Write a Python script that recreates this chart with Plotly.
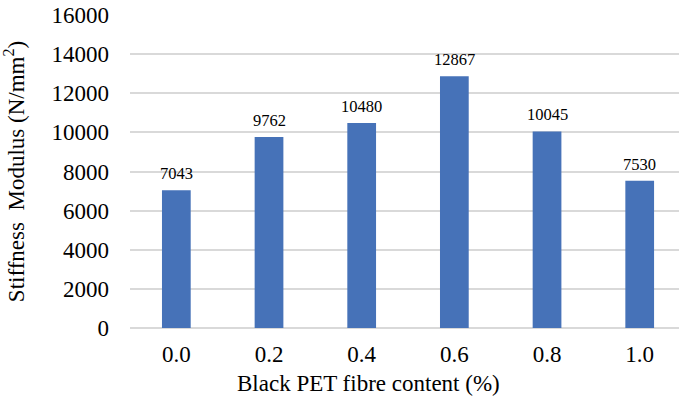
import plotly.graph_objects as go

# Stiffness modulus for each black PET fibre dosage
fibre_content = ["0.0", "0.2", "0.4", "0.6", "0.8", "1.0"]
stiffness = [7043, 9762, 10480, 12867, 10045, 7530]
y_ticks = [0, 2000, 4000, 6000, 8000, 10000, 12000, 14000, 16000]

FONT = "Liberation Serif, Times New Roman, serif"
BAR_COLOR = "#4672B8"
GRID_COLOR = "#D9D9D9"

fig = go.Figure()
fig.add_trace(go.Bar(
    x=fibre_content,
    y=stiffness,
    marker=dict(color=BAR_COLOR, line=dict(width=0)),
    width=0.31,
    hoverinfo="x+y",
))

# value labels above each bar (category axis positions are indices)
for i, yv in enumerate(stiffness):
    fig.add_annotation(
        x=i, y=yv, text=str(yv), showarrow=False,
        yanchor="bottom", yshift=5,
        font=dict(family=FONT, size=16.5, color="#000000"),
    )

# horizontal axis title
fig.add_annotation(
    xref="paper", yref="paper", x=0.434, y=-0.176,
    xanchor="center", yanchor="middle", showarrow=False,
    text="Black PET fibre content (%)",
    font=dict(family=FONT, size=23, color="#000000"),
)

fig.update_layout(
    width=679, height=406,
    margin=dict(l=130, r=0, t=15, b=78),
    paper_bgcolor="white", plot_bgcolor="white",
    showlegend=False,
    font=dict(family=FONT, size=23, color="#000000"),
)
fig.update_xaxes(
    type="category",
    range=[-0.5, 5.424],
    showgrid=False, zeroline=False,
    showline=False, ticks="",
    tickfont=dict(family=FONT, size=23),
    ticklabelstandoff=10,
)
fig.update_yaxes(
    range=[0, 16000],
    tickvals=y_ticks,
    ticktext=[str(v) for v in y_ticks],
    showgrid=True, gridcolor=GRID_COLOR, gridwidth=1.5,
    zeroline=True, zerolinecolor=GRID_COLOR, zerolinewidth=1.5,
    showline=False, ticks="",
    tickfont=dict(family=FONT, size=23),
    ticklabelstandoff=20,
    title=dict(text="Stiffness  Modulus (N/mm<sup>2</sup>)",
               font=dict(family=FONT, size=23), standoff=22),
)

fig.write_html("out.html")
